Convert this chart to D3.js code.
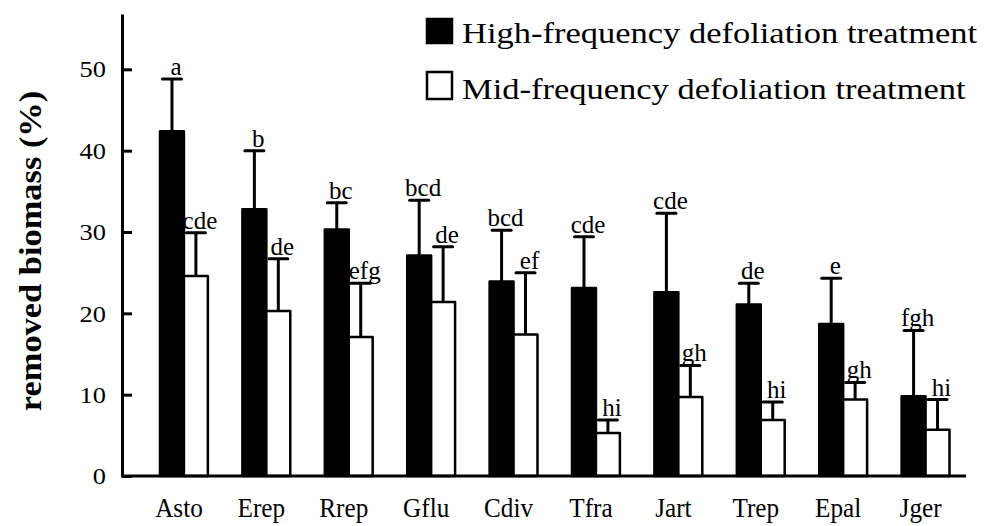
<!DOCTYPE html>
<html>
<head>
<meta charset="utf-8">
<script src="https://cdn.jsdelivr.net/npm/d3@7"></script>
<style>
  body { margin: 0; background: #fff; }
  svg { display: block; font-family: "Liberation Serif", "Times New Roman", serif; }
</style>
</head>
<body>
<div id="chart"></div>
<script>
// species codes on the x axis
const species = ["Asto", "Erep", "Rrep", "Gflu", "Cdiv", "Tfra", "Jart", "Trep", "Epal", "Jger"];

// high-frequency defoliation: mean removed biomass (%) and error
const highMean = [42.4, 32.8, 30.3, 27.1, 23.9, 23.1, 22.6, 21.1, 18.7, 9.8];
const highErr = [6.4, 7.2, 3.3, 6.8, 6.3, 6.3, 9.7, 2.6, 5.6, 8.1];
const highLetters = ["a", "b", "bc", "bcd", "bcd", "cde", "cde", "de", "e", "fgh"];

// mid-frequency defoliation
const midMean = [24.6, 20.3, 17.1, 21.4, 17.4, 5.3, 9.7, 6.9, 9.4, 5.7];
const midErr = [5.3, 6.4, 6.6, 6.8, 7.6, 1.6, 3.9, 2.2, 2.1, 3.7];
const midLetters = ["cde", "de", "efg", "de", "ef", "hi", "gh", "hi", "gh", "hi"];

const seriesNames = ["High-frequency defoliation treatment", "Mid-frequency defoliation treatment"];
const seriesFill = ["#000", "#fff"];
const yTicks = [0, 10, 20, 30, 40, 50];

const width = 986, height = 526;

const svg = d3.select("#chart").append("svg")
    .attr("width", width)
    .attr("height", height);

// scales
const x = d3.scaleBand()
    .domain(species)
    .range([160, 949.5])
    .paddingInner(0.419)
    .paddingOuter(0);

const xSub = d3.scaleBand()
    .domain([0, 1])
    .range([0, x.bandwidth()]);

const y = d3.scaleLinear()
    .domain([0, 56.8])
    .range([476, 14]);

// build rows per series
const series = [
    { mean: highMean, err: highErr, letters: highLetters },
    { mean: midMean, err: midErr, letters: midLetters }
];
const rows = [];
series.forEach((s, si) => {
    species.forEach((sp, i) => {
        rows.push({ sp: sp, s: si, mean: s.mean[i], err: s.err[i], letter: s.letters[i] });
    });
});

const barX = d => x(d.sp) + xSub(d.s);
const barMid = d => barX(d) + xSub.bandwidth() / 2;

// bars
svg.append("g").selectAll("rect")
    .data(rows)
    .join("rect")
    .attr("x", barX)
    .attr("y", d => y(d.mean))
    .attr("width", xSub.bandwidth())
    .attr("height", d => y(0) - y(d.mean))
    .attr("fill", d => seriesFill[d.s])
    .attr("stroke", "#000")
    .attr("stroke-width", 2.5)
    .attr("stroke-linejoin", "round");

// error bars
let eb = svg.append("g").attr("stroke", "#000").attr("stroke-width", 3);
eb.selectAll(".stem")
    .data(rows)
    .join("line")
    .attr("class", "stem")
    .attr("x1", barMid).attr("x2", barMid)
    .attr("y1", d => y(d.mean))
    .attr("y2", d => y(d.mean + d.err));
eb.selectAll(".cap")
    .data(rows)
    .join("line")
    .attr("class", "cap")
    .attr("x1", d => barMid(d) - 9.5).attr("x2", d => barMid(d) + 9.5)
    .attr("y1", d => y(d.mean + d.err))
    .attr("y2", d => y(d.mean + d.err))
    .attr("stroke-linecap", "round");

// significance letters
svg.append("g").selectAll("text")
    .data(rows)
    .join("text")
    .attr("x", d => barMid(d) + 4)
    .attr("y", d => y(d.mean + d.err) - 4)
    .attr("text-anchor", "middle")
    .style("font-size", "25px")
    .text(d => d.letter);

// y axis
const yAxis = d3.axisLeft(y)
    .tickValues(yTicks)
    .tickSize(-10)
    .tickSizeOuter(0)
    .tickPadding(16);

const yg = svg.append("g")
    .attr("transform", "translate(122,0)")
    .call(yAxis);
yg.select(".domain").attr("stroke-width", 3);
yg.selectAll(".tick line").attr("stroke-width", 3);
yg.selectAll(".tick text")
    .style("font-size", "24px")
    .style("font-family", "Liberation Serif, serif")
    .attr("fill", "#000")
    .attr("transform", "translate(-16,0) scale(1.1,1) translate(16,0)");

// x axis line
svg.append("line")
    .attr("x1", 121).attr("x2", 966)
    .attr("y1", y(0)).attr("y2", y(0))
    .attr("stroke", "#000")
    .attr("stroke-width", 3);

// species labels
svg.append("g").selectAll("text")
    .data(species)
    .join("text")
    .attr("transform", d => `translate(${x(d) + x.bandwidth() / 2 - 5},517) scale(0.9,1)`)
    .attr("text-anchor", "middle")
    .style("font-size", "28px")
    .text(d => d);

// y axis title
svg.append("text")
    .attr("transform", "translate(41,251) rotate(-90) scale(1.11,1)")
    .attr("text-anchor", "middle")
    .style("font-size", "31px")
    .style("font-weight", "bold")
    .text("removed biomass (%)");

// legend
const legend = svg.append("g").selectAll("g")
    .data(seriesNames)
    .join("g")
    .attr("transform", (d, i) => `translate(427,${19 + i * 53})`);

legend.append("rect")
    .attr("width", 25)
    .attr("height", (d, i) => i === 0 ? 24 : 27)
    .attr("fill", (d, i) => seriesFill[i])
    .attr("stroke", "#000")
    .attr("stroke-width", 2.5);

legend.append("text")
    .attr("transform", (d, i) => `translate(35,${i === 0 ? 24 : 27}) scale(1.15,1)`)
    .style("font-size", "30px")
    .text(d => d);
</script>
</body>
</html>
